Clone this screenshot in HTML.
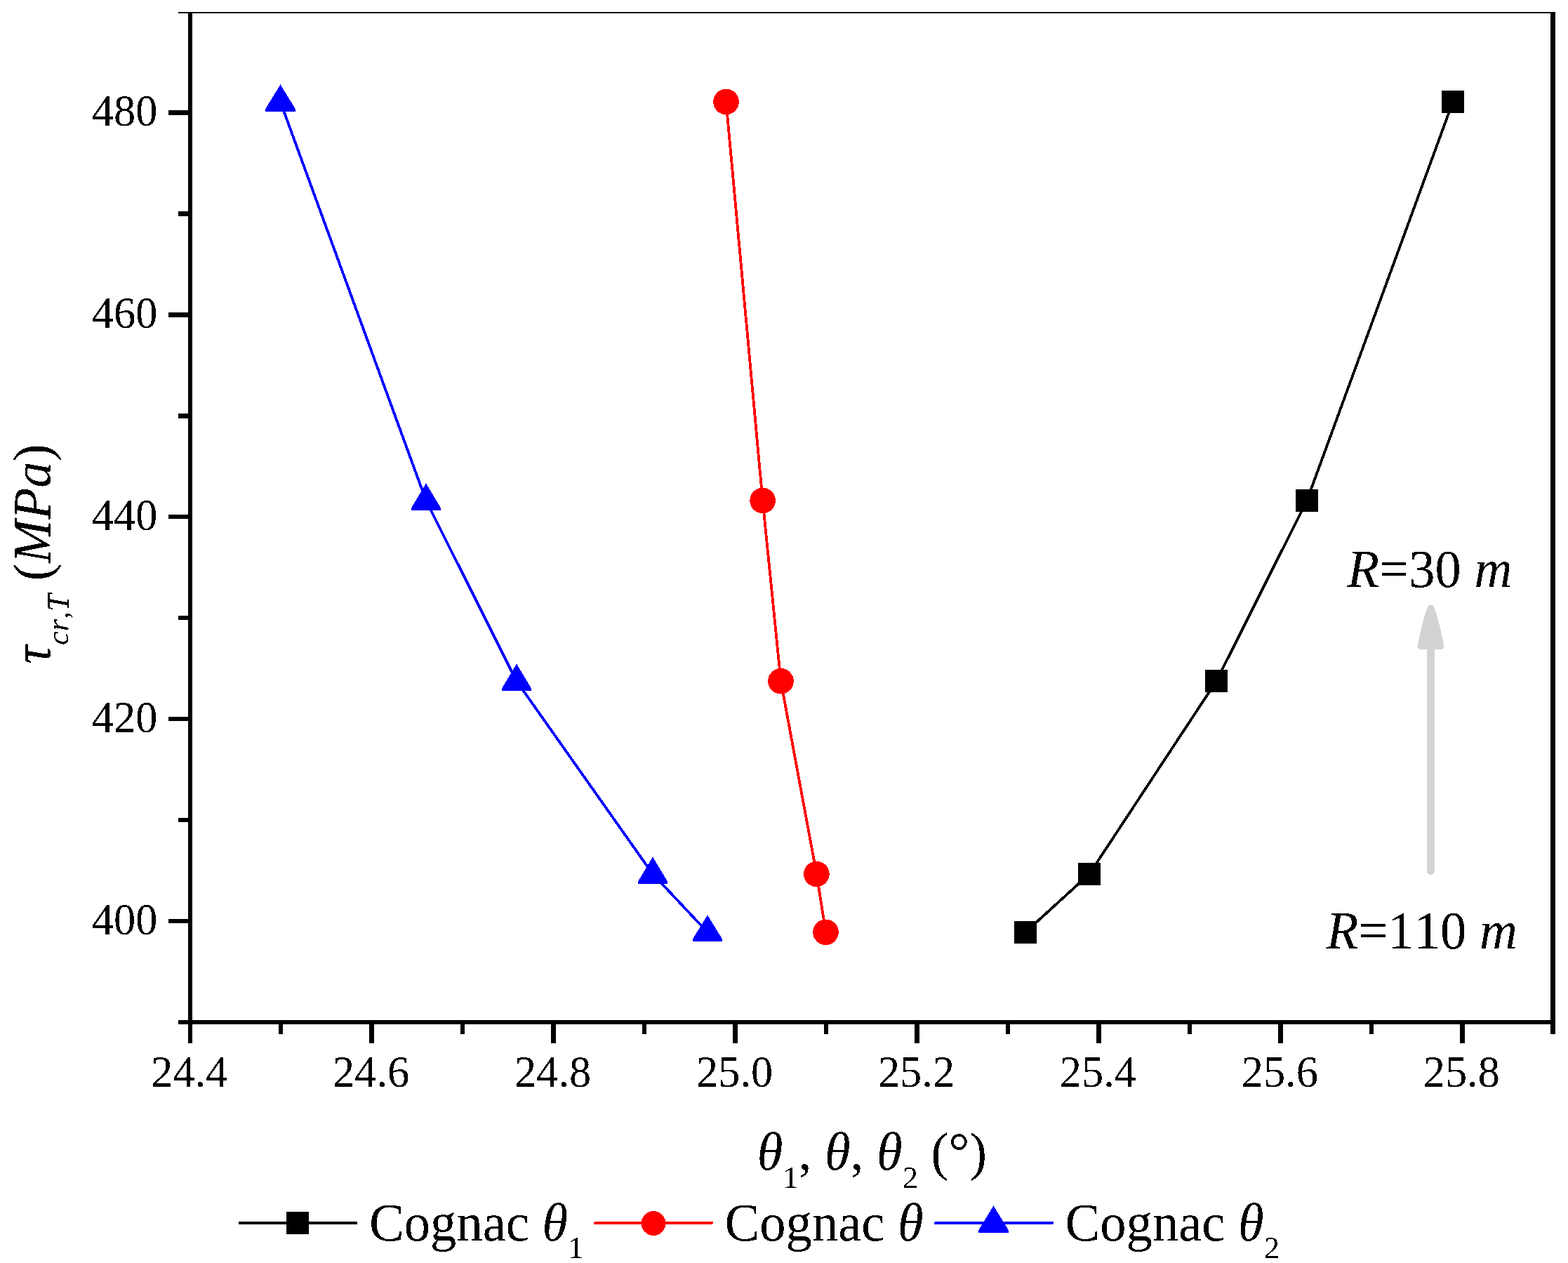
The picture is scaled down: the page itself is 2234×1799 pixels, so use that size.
<!DOCTYPE html>
<html lang="en">
<head>
<meta charset="utf-8">
<title>Cognac critical stress vs angle</title>
<style>
html,body{margin:0;padding:0;background:#ffffff;}
body{width:2234px;height:1799px;overflow:hidden;}
svg{display:block;}
text{white-space:pre;font-kerning:none;font-variant-ligatures:none;}
</style>
</head>
<body>
<svg width="2234" height="1799" viewBox="0 0 2234 1799">
<defs><filter id="crisp" filterUnits="userSpaceOnUse" x="0" y="0" width="2234" height="1799" color-interpolation-filters="sRGB"><feComponentTransfer><feFuncA type="discrete" tableValues="0 1"/></feComponentTransfer></filter></defs>
<rect x="0" y="0" width="2234" height="1799" fill="#ffffff"/>
<g id="series" shape-rendering="crispEdges">
<polyline points="2070.0,145.0 1862.0,713.0 1733.0,970.2 1552.0,1245.0 1461.0,1327.8" fill="none" stroke="#000000" stroke-width="3.8" stroke-linejoin="round"/>
<polyline points="1034.5,145.0 1086.6,713.0 1112.5,970.2 1163.4,1245.0 1176.5,1327.8" fill="none" stroke="#ff0000" stroke-width="3.8" stroke-linejoin="round"/>
<polyline points="399.5,145.0 607.0,713.0 736.0,970.2 930.0,1245.0 1008.0,1327.8" fill="none" stroke="#0000ff" stroke-width="3.8" stroke-linejoin="round"/>
<rect x="2054.0" y="129.0" width="32" height="32" fill="#000000"/>
<rect x="1846.0" y="697.0" width="32" height="32" fill="#000000"/>
<rect x="1717.0" y="954.2" width="32" height="32" fill="#000000"/>
<rect x="1536.0" y="1229.0" width="32" height="32" fill="#000000"/>
<rect x="1445.0" y="1311.8" width="32" height="32" fill="#000000"/>
<circle cx="1034.5" cy="145.0" r="18.3" fill="#ff0000"/>
<circle cx="1086.6" cy="713.0" r="18.3" fill="#ff0000"/>
<circle cx="1112.5" cy="970.2" r="18.3" fill="#ff0000"/>
<circle cx="1163.4" cy="1245.0" r="18.3" fill="#ff0000"/>
<circle cx="1176.5" cy="1327.8" r="18.3" fill="#ff0000"/>
<polygon points="399.5,120.4 420.6,154.8 420.6,158.6 378.4,158.6 378.4,154.8" fill="#0000ff"/>
<polygon points="607.0,688.4 627.6,722.8 627.6,726.6 586.4,726.6 586.4,722.8" fill="#0000ff"/>
<polygon points="736.0,945.4 756.6,979.8 756.6,983.6 715.4,983.6 715.4,979.8" fill="#0000ff"/>
<polygon points="930.0,1220.4 950.6,1254.8 950.6,1258.6 909.4,1258.6 909.4,1254.8" fill="#0000ff"/>
<polygon points="1008.0,1303.4 1028.6,1336.8 1028.6,1340.6 987.4,1340.6 987.4,1336.8" fill="#0000ff"/>
</g>
<g id="arrow" fill="#d3d3d3" stroke="#d3d3d3" stroke-linejoin="round" stroke-linecap="round" shape-rendering="crispEdges">
<line x1="2038.5" y1="1240.5" x2="2038.5" y2="920" stroke-width="10.8"/>
<path d="M2038.5 866.6 Q2045.6 884 2052.5 920.4 L2024.5 920.4 Q2031.4 884 2038.5 866.6 Z" stroke-width="9.5"/>
</g>
<g id="axes" fill="#000000" shape-rendering="crispEdges">
<rect x="254" y="17" width="1962" height="2"/>
<rect x="268" y="17" width="6" height="1442"/>
<rect x="254" y="1453" width="1962" height="6"/>
<rect x="2209" y="17" width="7" height="1442"/>
<rect x="240" y="1309" width="30" height="6" rx="1.5"/>
<rect x="240" y="1021" width="30" height="6" rx="1.5"/>
<rect x="240" y="733" width="30" height="6" rx="1.5"/>
<rect x="240" y="445" width="30" height="7" rx="1.5"/>
<rect x="240" y="157" width="30" height="7" rx="1.5"/>
<rect x="254" y="1165" width="16" height="6" rx="1.5"/>
<rect x="254" y="877" width="16" height="6" rx="1.5"/>
<rect x="254" y="589" width="16" height="7" rx="1.5"/>
<rect x="254" y="301" width="16" height="7" rx="1.5"/>
<rect x="268" y="1456" width="6" height="30" rx="1.5"/>
<rect x="526" y="1456" width="7" height="30" rx="1.5"/>
<rect x="785" y="1456" width="7" height="30" rx="1.5"/>
<rect x="1044" y="1456" width="7" height="30" rx="1.5"/>
<rect x="1303" y="1456" width="7" height="30" rx="1.5"/>
<rect x="1562" y="1456" width="7" height="30" rx="1.5"/>
<rect x="1821" y="1456" width="7" height="30" rx="1.5"/>
<rect x="2080" y="1456" width="7" height="30" rx="1.5"/>
<rect x="397" y="1456" width="6" height="17" rx="1.5"/>
<rect x="656" y="1456" width="6" height="17" rx="1.5"/>
<rect x="915" y="1456" width="6" height="17" rx="1.5"/>
<rect x="1174" y="1456" width="6" height="17" rx="1.5"/>
<rect x="1433" y="1456" width="6" height="17" rx="1.5"/>
<rect x="1692" y="1456" width="6" height="17" rx="1.5"/>
<rect x="1951" y="1456" width="6" height="17" rx="1.5"/>
<rect x="2209" y="1456" width="7" height="17" rx="1.5"/>
</g>
<g id="labels" filter="url(#crisp)">
<g id="ticklabels" font-family='"Liberation Serif", serif' font-size="62.4" fill="#000000">
<text x="224.5" y="1330.8" text-anchor="end">400</text>
<text x="224.5" y="1042.9" text-anchor="end">420</text>
<text x="224.5" y="755.0" text-anchor="end">440</text>
<text x="224.5" y="467.1" text-anchor="end">460</text>
<text x="224.5" y="179.2" text-anchor="end">480</text>
<text x="269.8" y="1547.8" text-anchor="middle">24.4</text>
<text x="528.7" y="1547.8" text-anchor="middle">24.6</text>
<text x="787.6" y="1547.8" text-anchor="middle">24.8</text>
<text x="1046.6" y="1547.8" text-anchor="middle">25.0</text>
<text x="1305.5" y="1547.8" text-anchor="middle">25.2</text>
<text x="1564.4" y="1547.8" text-anchor="middle">25.4</text>
<text x="1823.3" y="1547.8" text-anchor="middle">25.6</text>
<text x="2082.3" y="1547.8" text-anchor="middle">25.8</text>
</g>
<g id="notes" class="big" font-family='"Liberation Serif", serif' font-size="75.6" fill="#000000">
<text transform="translate(1919.5,835.6) scale(0.987,1)"><tspan font-style="italic">R</tspan>=30 <tspan font-style="italic">m</tspan></text>
<text transform="translate(1889.8,1350.6) scale(0.987,1)"><tspan font-style="italic">R</tspan>=110 <tspan font-style="italic">m</tspan></text>
</g>
<g id="xlabel" class="big" font-family='"Liberation Serif", serif' font-size="75.6" fill="#000000">
<text transform="translate(1078.7,1666.2) scale(0.987,1)"><tspan font-style="italic">θ</tspan><tspan font-size="45.2" dy="25.6">1</tspan><tspan dy="-25.6">, </tspan><tspan font-style="italic">θ</tspan>, <tspan font-style="italic">θ</tspan><tspan font-size="45.2" dy="25.6">2</tspan><tspan dy="-25.6"> (°)</tspan></text>
</g>
<g id="ylabel" class="big" font-family='"Liberation Serif", serif' font-size="75.6" fill="#000000" transform="translate(71.5,945.7) rotate(-90) scale(0.987,1)">
<text x="0" y="0"><tspan font-style="italic">τ</tspan><tspan font-style="italic" font-size="45.2" dy="25.6">cr,T</tspan><tspan dy="-25.6"> (</tspan><tspan font-style="italic">MPa</tspan>)</text>
</g>
</g>
<g id="legend-marks" shape-rendering="crispEdges">
<line x1="341.5" y1="1742" x2="507.5" y2="1742" stroke="#000000" stroke-width="4" stroke-linecap="round"/>
<rect x="408" y="1726" width="32" height="32" fill="#000000"/>
<line x1="848" y1="1742" x2="1014" y2="1742" stroke="#ff0000" stroke-width="4" stroke-linecap="round"/>
<circle cx="931.0" cy="1742.5" r="17.4" fill="#ff0000"/>
<line x1="1333" y1="1742" x2="1499" y2="1742" stroke="#0000ff" stroke-width="4" stroke-linecap="round"/>
<polygon points="1415.5,1717.4 1436.6,1751.8 1436.6,1755.6 1394.4,1755.6 1394.4,1751.8" fill="#0000ff"/>
</g>
<g id="legend-text" filter="url(#crisp)" class="big" font-family='"Liberation Serif", serif' font-size="75.6" fill="#000000">
<text transform="translate(526.0,1767.0) scale(0.987,1)">Cognac <tspan font-style="italic">θ</tspan><tspan font-size="45.2" dy="25">1</tspan></text>
<text transform="translate(1032.5,1767.0) scale(0.987,1)">Cognac <tspan font-style="italic">θ</tspan></text>
<text transform="translate(1517.5,1767.0) scale(0.987,1)">Cognac <tspan font-style="italic">θ</tspan><tspan font-size="45.2" dy="25">2</tspan></text>
</g>
</svg>
</body>
</html>
